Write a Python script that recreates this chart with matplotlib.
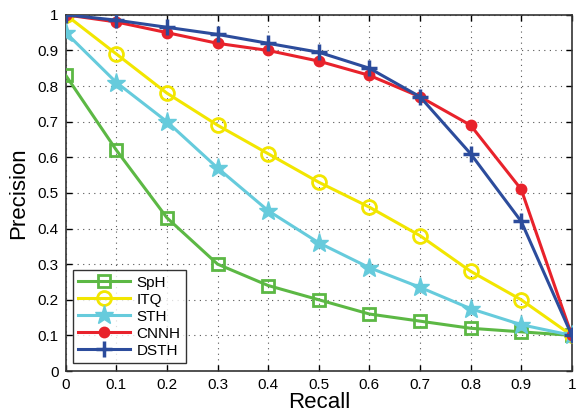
import matplotlib
matplotlib.use("Agg")
import matplotlib.pyplot as plt
import numpy as np

recall = [0, 0.1, 0.2, 0.3, 0.4, 0.5, 0.6, 0.7, 0.8, 0.9, 1.0]
sph  = [0.83, 0.62, 0.43, 0.30, 0.24, 0.20, 0.16, 0.14, 0.12, 0.11, 0.10]
itq  = [1.00, 0.89, 0.78, 0.69, 0.61, 0.53, 0.46, 0.38, 0.28, 0.20, 0.10]
sth  = [0.95, 0.81, 0.70, 0.57, 0.45, 0.36, 0.29, 0.235, 0.175, 0.13, 0.10]
cnnh = [1.00, 0.98, 0.95, 0.92, 0.90, 0.87, 0.83, 0.77, 0.69, 0.51, 0.10]
dsth = [1.00, 0.985, 0.965, 0.945, 0.92, 0.895, 0.85, 0.77, 0.61, 0.42, 0.10]

xticks = [0, 0.1, 0.2, 0.3, 0.4, 0.5, 0.6, 0.7, 0.8, 0.9, 1]
xticklabels = ["0", "0.1", "0.2", "0.3", "0.4", "0.5", "0.6", "0.7", "0.8", "0.9", "1"]
yticks = xticks
yticklabels = xticklabels

plt.rcParams['font.family'] = ['Liberation Sans', 'DejaVu Sans']

fig = plt.figure(figsize=(5.77, 4.12), dpi=100)
ax = fig.add_axes([0.114, 0.0995, 0.877, 0.8645])

lw = 2.2
ax.plot(recall, sph, color='#5cb844', lw=lw, marker='s', ms=9, mfc='none', mew=2, label='SpH', zorder=3)
ax.plot(recall, itq, color='#f2e600', lw=lw, marker='o', ms=10, mfc='none', mew=2, label='ITQ', zorder=3)
ax.plot(recall, sth, color='#66cbdc', lw=lw, marker='*', ms=14, mew=1, label='STH', zorder=3)
ax.plot(recall, cnnh, color='#e8222b', lw=lw, marker='o', ms=7, mew=1.5, label='CNNH', zorder=4)
ax.plot(recall, dsth, color='#2c4c9c', lw=lw, marker='+', ms=11, mew=2.5, label='DSTH', zorder=5)

ax.set_xlim(0, 1)
ax.set_ylim(0, 1)
ax.set_xticks(xticks)
ax.set_xticklabels(xticklabels)
ax.set_yticks(yticks)
ax.set_yticklabels(yticklabels)
ax.tick_params(direction='in', top=True, right=True, labelsize=11, length=4, width=1, pad=5)
ax.grid(True, color='#555555', linestyle=(0, (1, 4)), linewidth=0.8)
for s in ax.spines.values():
    s.set_linewidth(1.2)
    s.set_color('#333333')

ax.set_xlabel('Recall', fontsize=16, labelpad=0)
ax.set_ylabel('Precision', fontsize=16, labelpad=6)

leg = ax.legend(loc='lower left', bbox_to_anchor=(0.014, 0.022), fontsize=11, frameon=True,
                fancybox=False, edgecolor='black', handlelength=3.4, borderpad=0.35,
                labelspacing=0.2, handletextpad=0.4, borderaxespad=0)
leg.get_frame().set_linewidth(1.0)

fig.savefig('out.png', dpi=100)
